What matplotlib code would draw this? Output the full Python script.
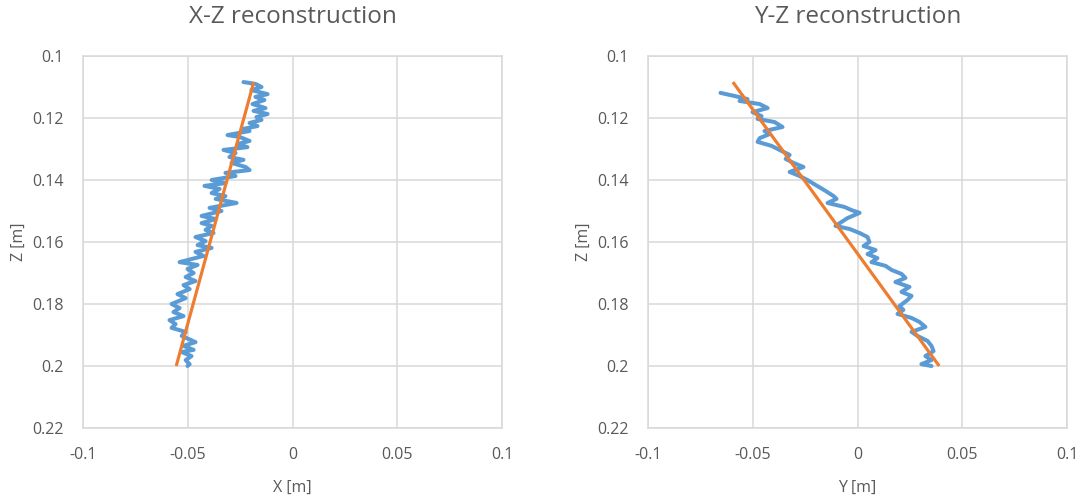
import matplotlib
matplotlib.use('Agg')
from matplotlib import pyplot as plt

# X-Z reconstruction: measured track and fitted line
xz_x = [-0.0234, -0.0177, -0.0148, -0.0196, -0.0119, -0.0177, -0.0134, -0.0191, -0.0129, -0.0186,
        -0.0119, -0.0172, -0.0148, -0.0205, -0.0167, -0.0234, -0.0205, -0.0310, -0.0253, -0.0205,
        -0.0262, -0.0215, -0.0329, -0.0272, -0.0301, -0.0234, -0.0291, -0.0224, -0.0205, -0.0320,
        -0.0272, -0.0386, -0.0320, -0.0420, -0.0348, -0.0386, -0.0320, -0.0367, -0.0267, -0.0396,
        -0.0339, -0.0434, -0.0367, -0.0434, -0.0386, -0.0415, -0.0377, -0.0463, -0.0415, -0.0453,
        -0.0386, -0.0463, -0.0425, -0.0539, -0.0453, -0.0501, -0.0472, -0.0510, -0.0463, -0.0520,
        -0.0491, -0.0549, -0.0510, -0.0577, -0.0539, -0.0568, -0.0520, -0.0587, -0.0558, -0.0577,
        -0.0510, -0.0529, -0.0463, -0.0520, -0.0472, -0.0529, -0.0482, -0.0510, -0.0491, -0.0501]
xz_z = [0.1084, 0.1090, 0.1100, 0.1110, 0.1123, 0.1132, 0.1142, 0.1155, 0.1168, 0.1177,
        0.1187, 0.1197, 0.1206, 0.1216, 0.1226, 0.1235, 0.1242, 0.1255, 0.1261, 0.1274,
        0.1284, 0.1294, 0.1303, 0.1313, 0.1326, 0.1335, 0.1345, 0.1358, 0.1368, 0.1377,
        0.1387, 0.1400, 0.1410, 0.1419, 0.1429, 0.1442, 0.1452, 0.1461, 0.1474, 0.1490,
        0.1500, 0.1516, 0.1526, 0.1539, 0.1548, 0.1561, 0.1571, 0.1584, 0.1597, 0.1610,
        0.1619, 0.1632, 0.1645, 0.1665, 0.1674, 0.1687, 0.1700, 0.1713, 0.1726, 0.1739,
        0.1752, 0.1768, 0.1781, 0.1800, 0.1813, 0.1826, 0.1839, 0.1852, 0.1865, 0.1877,
        0.1890, 0.1903, 0.1923, 0.1935, 0.1948, 0.1955, 0.1968, 0.1981, 0.1994, 0.2000]
xz_fit_x = [-0.0185, -0.0555]
xz_fit_z = [0.1084, 0.2000]

# Y-Z reconstruction
yz_y = [-0.0654, -0.0587, -0.0525, -0.0563, -0.0467, -0.0429, -0.0501, -0.0458, -0.0477, -0.0396,
        -0.0358, -0.0444, -0.0420, -0.0467, -0.0477, -0.0410, -0.0372, -0.0324, -0.0343, -0.0305,
        -0.0258, -0.0324, -0.0277, -0.0239, -0.0200, -0.0153, -0.0114, -0.0100, -0.0143, -0.0062,
        -0.0029, 0.0010, -0.0048, -0.0105, -0.0038, 0.0010, 0.0048, 0.0057, 0.0029, 0.0086,
        0.0048, 0.0095, 0.0067, 0.0134, 0.0162, 0.0210, 0.0229, 0.0181, 0.0248, 0.0210,
        0.0258, 0.0239, 0.0200, 0.0219, 0.0191, 0.0258, 0.0296, 0.0324, 0.0258, 0.0286,
        0.0334, 0.0353, 0.0363, 0.0324, 0.0353, 0.0305, 0.0353]
yz_z = [0.1119, 0.1129, 0.1139, 0.1145, 0.1155, 0.1168, 0.1181, 0.1194, 0.1203, 0.1213,
        0.1229, 0.1242, 0.1252, 0.1265, 0.1277, 0.1290, 0.1303, 0.1319, 0.1332, 0.1345,
        0.1358, 0.1374, 0.1387, 0.1400, 0.1416, 0.1435, 0.1452, 0.1461, 0.1474, 0.1487,
        0.1497, 0.1506, 0.1523, 0.1548, 0.1558, 0.1571, 0.1584, 0.1600, 0.1613, 0.1626,
        0.1639, 0.1652, 0.1665, 0.1677, 0.1690, 0.1703, 0.1716, 0.1729, 0.1745, 0.1761,
        0.1774, 0.1787, 0.1807, 0.1819, 0.1832, 0.1845, 0.1858, 0.1874, 0.1890, 0.1903,
        0.1919, 0.1935, 0.1952, 0.1968, 0.1981, 0.1994, 0.2000]
yz_fit_y = [-0.0595, 0.0390]
yz_fit_z = [0.1084, 0.2000]

x_ticks = [-0.1, -0.05, 0, 0.05, 0.1]
x_labels = ['-0.1', '-0.05', '0', '0.05', '0.1']
z_ticks = [0.1, 0.12, 0.14, 0.16, 0.18, 0.2, 0.22]
z_labels = ['0.1', '0.12', '0.14', '0.16', '0.18', '0.2', '0.22']

plt.rcParams['font.family'] = ['Open Sans', 'DejaVu Sans']
txt = '#595959'
blue = '#5B9BD5'
orange = '#ED7D31'

fig = plt.figure(figsize=(10.85, 5), dpi=100)
ax1 = fig.add_axes([83 / 1085, 72 / 500, 419 / 1085, 372 / 500])
ax2 = fig.add_axes([648 / 1085, 72 / 500, 419 / 1085, 372 / 500])

panels = [(ax1, xz_x, xz_z, xz_fit_x, xz_fit_z, 'X-Z reconstruction', 'X [m]'),
          (ax2, yz_y, yz_z, yz_fit_y, yz_fit_z, 'Y-Z reconstruction', 'Y [m]')]

for ax, px, pz, fx, fz, title, xlabel in panels:
    ax.plot(px, pz, color=blue, lw=2.9, solid_joinstyle='round', solid_capstyle='round', zorder=3)
    ax.plot(fx, fz, color=orange, lw=2.3, solid_capstyle='butt', zorder=4)
    ax.set_xlim(-0.1, 0.1)
    ax.set_ylim(0.22, 0.1)
    ax.set_xticks(x_ticks)
    ax.set_xticklabels(x_labels)
    ax.set_yticks(z_ticks)
    ax.set_yticklabels(z_labels)
    ax.grid(True, color='#D9D9D9', lw=1.1)
    ax.set_axisbelow(True)
    for s in ax.spines.values():
        s.set_color('#D9D9D9')
        s.set_linewidth(1.1)
    ax.tick_params(length=0, pad=14, labelsize=11.5, colors=txt)
    ax.set_title(title, fontsize=17.5, color=txt, pad=24)
    ax.set_xlabel(xlabel, fontsize=11.5, color=txt, labelpad=12)
    ax.set_ylabel('Z [m]', fontsize=11.5, color=txt, labelpad=4)

fig.savefig('out.png', dpi=100)
